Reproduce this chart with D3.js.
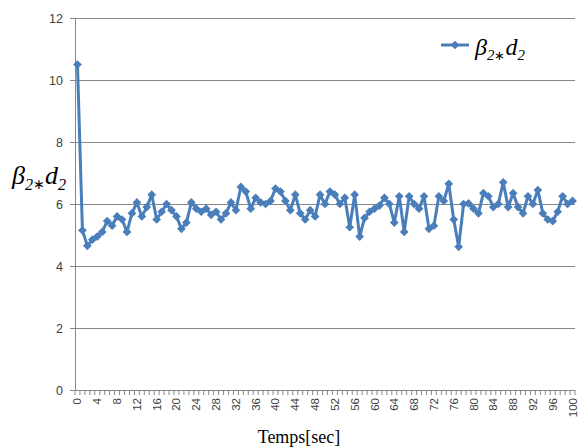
<!DOCTYPE html>
<html>
<head>
<meta charset="utf-8">
<script src="https://cdn.jsdelivr.net/npm/d3@7"></script>
<style>
  html, body { margin: 0; padding: 0; background: #fff; }
  svg { display: block; }
</style>
</head>
<body>
<svg id="chart" width="585" height="448"></svg>
<script>
// Time steps (seconds) and the measured β2*d2 values
const times = d3.range(0, 101);
const values = [
  10.5, 5.15, 4.65, 4.85, 4.95, 5.1, 5.45, 5.3, 5.6, 5.5,
  5.1, 5.7, 6.05, 5.6, 5.9, 6.3, 5.5, 5.75, 6.0, 5.8,
  5.6, 5.2, 5.4, 6.05, 5.85, 5.75, 5.85, 5.65, 5.75, 5.5,
  5.7, 6.05, 5.8, 6.55, 6.4, 5.85, 6.2, 6.05, 6.0, 6.1,
  6.5, 6.4, 6.1, 5.8, 6.3, 5.7, 5.5, 5.8, 5.6, 6.3,
  6.0, 6.4, 6.3, 6.0, 6.2, 5.25, 6.3, 4.95, 5.55, 5.75,
  5.85, 5.95, 6.2, 6.0, 5.4, 6.25, 5.1, 6.25, 6.0, 5.85,
  6.25, 5.2, 5.3, 6.25, 6.1, 6.65, 5.5, 4.62, 6.0, 6.02,
  5.85, 5.7, 6.35, 6.25, 5.9, 6.0, 6.7, 5.9, 6.35, 5.9,
  5.7, 6.25, 6.0, 6.45, 5.7, 5.5, 5.45, 5.75, 6.25, 6.0,
  6.1
];
const yTicks = [0, 2, 4, 6, 8, 10, 12];
const xTickLabels = d3.range(0, 101, 4);

const lineColor = "#4a7ebb";
const gridColor = "#878787";

const svg = d3.select("#chart");
const plot = { left: 75, right: 575, top: 18, bottom: 390 };

const x = d3.scaleBand().domain(times).range([plot.left, plot.right]).padding(0);
const cx = t => x(t) + x.bandwidth() / 2;
const y = d3.scaleLinear().domain([0, 12]).range([plot.bottom, plot.top]);

// Horizontal gridlines
svg.append("g")
  .selectAll("line")
  .data(yTicks.filter(v => v > 0))
  .join("line")
  .attr("x1", plot.left).attr("x2", plot.right)
  .attr("y1", d => y(d)).attr("y2", d => y(d))
  .attr("stroke", gridColor).attr("stroke-width", 1)
  .attr("shape-rendering", "crispEdges");

// Y axis
const yAxis = svg.append("g")
  .attr("transform", `translate(${plot.left},0)`)
  .call(d3.axisLeft(y).tickValues(yTicks).tickSize(5).tickPadding(7).tickFormat(d3.format("d")));
yAxis.select(".domain").attr("stroke", gridColor);
yAxis.selectAll(".tick line").attr("stroke", gridColor);
yAxis.selectAll("text")
  .attr("font-family", "Liberation Sans, Arial, sans-serif")
  .attr("font-size", 12.5).attr("fill", "#404040");

// X axis: a tick at each category boundary, a label every 4 seconds
const xg = svg.append("g").attr("transform", `translate(0,${plot.bottom})`);
xg.append("line")
  .attr("x1", plot.left).attr("x2", plot.right).attr("y1", 0).attr("y2", 0)
  .attr("stroke", gridColor).attr("shape-rendering", "crispEdges");
xg.selectAll("line.minor")
  .data(d3.range(0, 102))
  .join("line")
  .attr("class", "minor")
  .attr("x1", i => plot.left + i * x.bandwidth())
  .attr("x2", i => plot.left + i * x.bandwidth())
  .attr("y1", 0).attr("y2", 5)
  .attr("stroke", gridColor).attr("stroke-width", 1);
xg.selectAll("text")
  .data(xTickLabels)
  .join("text")
  .attr("transform", d => `translate(${cx(d) + 4},8) rotate(-90)`)
  .attr("text-anchor", "end")
  .attr("font-family", "Liberation Sans, Arial, sans-serif")
  .attr("font-size", 11.5).attr("fill", "#404040")
  .text(d => d);

// Axis titles
svg.append("text")
  .attr("x", 299).attr("y", 443)
  .attr("text-anchor", "middle")
  .attr("font-family", "Liberation Serif, Times New Roman, serif")
  .attr("font-size", 18).attr("fill", "#000")
  .text("Temps[sec]");

function betaLabel(g, size) {
  const t = g.append("text")
    .attr("font-family", "Liberation Serif, Times New Roman, serif")
    .attr("font-style", "italic")
    .attr("font-size", size).attr("fill", "#000");
  t.append("tspan").text("β");
  t.append("tspan").attr("font-size", size * 0.62).attr("dy", size * 0.22).text("2");
  t.append("tspan").attr("font-size", size * 0.55).attr("font-style", "normal").attr("dy", -size * 0.02).text("∗");
  t.append("tspan").attr("font-size", size).attr("dy", -size * 0.2).text("d");
  t.append("tspan").attr("font-size", size * 0.62).attr("dy", size * 0.22).text("2");
  return t;
}
betaLabel(svg.append("g").attr("transform", "translate(12,184)"), 26);

// Data line and diamond markers
const line = d3.line().x((d, i) => cx(times[i])).y(d => y(d));
svg.append("path")
  .datum(values)
  .attr("d", line)
  .attr("fill", "none")
  .attr("stroke", lineColor).attr("stroke-width", 3)
  .attr("stroke-linejoin", "round");

const diamond = d3.symbol(d3.symbolSquare, 38);
svg.append("g")
  .selectAll("path")
  .data(values)
  .join("path")
  .attr("d", diamond)
  .attr("transform", (d, i) => `translate(${cx(times[i])},${y(d)}) rotate(45)`)
  .attr("fill", lineColor);

// Legend
const lg = svg.append("g").attr("transform", "translate(441,45)");
lg.append("line").attr("x1", 0).attr("x2", 28).attr("y1", 0).attr("y2", 0)
  .attr("stroke", lineColor).attr("stroke-width", 3);
lg.append("path").attr("d", diamond).attr("transform", "translate(14,0) rotate(45)").attr("fill", lineColor);
betaLabel(lg.append("g").attr("transform", "translate(34,10)"), 24);
</script>
</body>
</html>
